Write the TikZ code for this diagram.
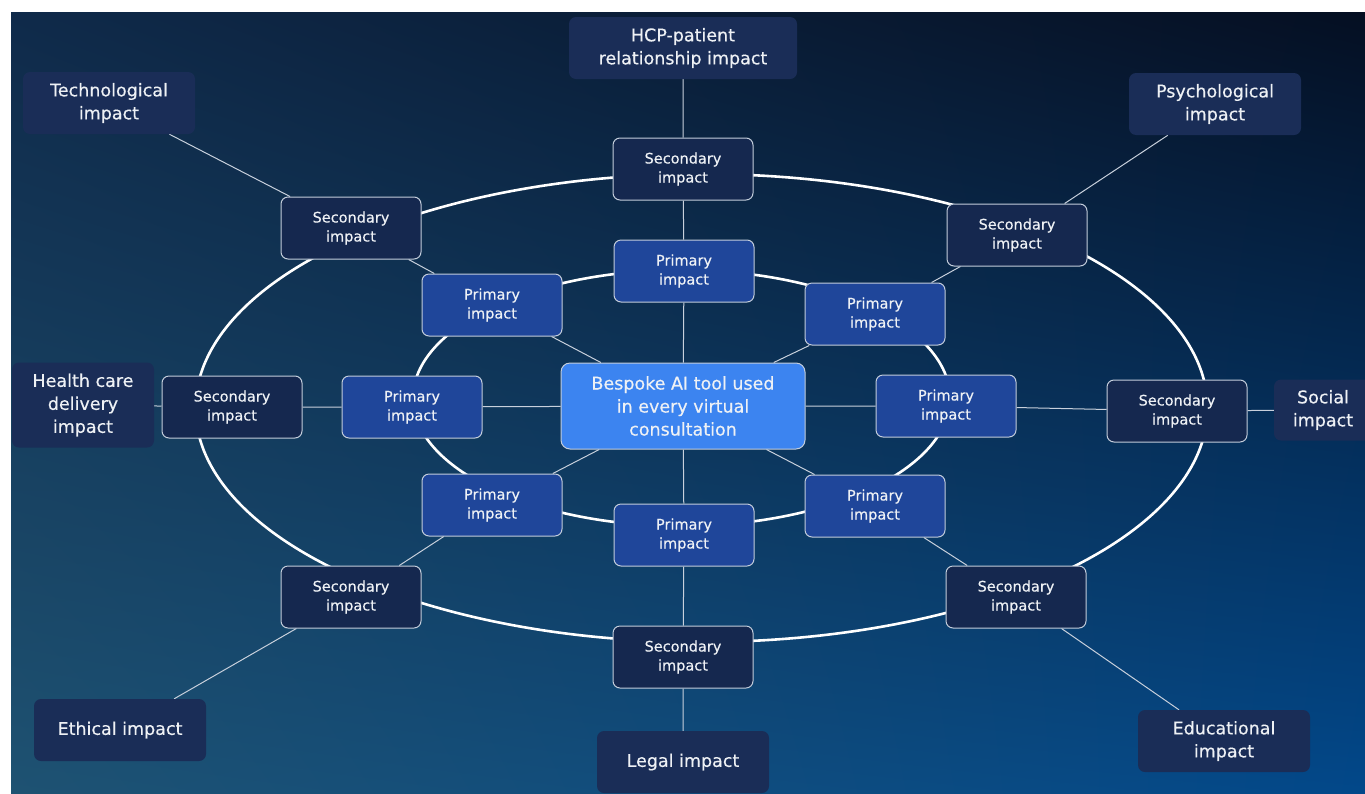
\documentclass[tikz,border=0pt]{standalone}
\usepackage{fontspec}
\setmainfont[FakeBold=0.4]{DejaVu Sans}
\usetikzlibrary{backgrounds,shadings}
\definecolor{bgtl}{HTML}{0F2A4A}
\definecolor{bgtr}{HTML}{050F22}
\definecolor{bgbl}{HTML}{1E5272}
\definecolor{bgbr}{HTML}{02488A}
\definecolor{outerc}{HTML}{1A2D57}
\definecolor{secc}{HTML}{15284F}
\definecolor{primc}{HTML}{1F469A}
\definecolor{corec}{HTML}{3C84F0}
\definecolor{edgec}{HTML}{C3CDDB}
\definecolor{linkc}{HTML}{C8D0DC}
\definecolor{txt}{HTML}{EEF1F5}
\tikzset{
  outerbox/.style={rounded corners=7pt, fill=outerc, text=txt, align=center,
    font=\fontsize{17.5}{23}\selectfont, minimum width=172pt, minimum height=62pt, inner sep=0pt},
  secbox/.style={rounded corners=7pt, fill=secc, draw=edgec, line width=1pt, text=txt, align=center,
    font=\fontsize{14.5}{19}\selectfont, minimum width=140pt, minimum height=62pt, inner sep=0pt},
  primbox/.style={secbox, fill=primc},
  corebox/.style={rounded corners=9pt, fill=corec, draw=edgec, line width=1pt, text=txt, align=center,
    font=\fontsize{17.5}{23}\selectfont, minimum width=244pt, minimum height=86pt, inner sep=0pt},
  link/.style={draw=linkc, line width=1pt},
  ring/.style={draw=white, line width=2.6pt}
}
\begin{document}
\begin{tikzpicture}[x=1pt,y=-1pt]
\useasboundingbox (0,0) rectangle (1365,793);
% core
\node[corebox] (core) at (683,406) {Bespoke AI tool used\\in every virtual\\consultation};
% primary
\node[primbox] (pt)  at (684,271) {Primary\\impact};
\node[primbox] (ptl) at (492,305) {Primary\\impact};
\node[primbox] (ptr) at (875,314) {Primary\\impact};
\node[primbox] (pl)  at (412,407) {Primary\\impact};
\node[primbox] (pr)  at (946,406) {Primary\\impact};
\node[primbox] (pbl) at (492,505) {Primary\\impact};
\node[primbox] (pbr) at (875,506) {Primary\\impact};
\node[primbox] (pb)  at (684,535) {Primary\\impact};
% secondary
\node[secbox] (st)  at (683,169) {Secondary\\impact};
\node[secbox] (stl) at (351,228) {Secondary\\impact};
\node[secbox] (str) at (1017,235) {Secondary\\impact};
\node[secbox] (sl)  at (232,407) {Secondary\\impact};
\node[secbox] (sr)  at (1177,411) {Secondary\\impact};
\node[secbox] (sbl) at (351,597) {Secondary\\impact};
\node[secbox] (sbr) at (1016,597) {Secondary\\impact};
\node[secbox] (sb)  at (683,657) {Secondary\\impact};
% outer labels
\node[outerbox, minimum width=228pt] (hcp) at (683,48) {HCP-patient\\relationship impact};
\node[outerbox] (tech) at (109,103) {Technological\\impact};
\node[outerbox] (psy) at (1215,104) {Psychological\\impact};
\node[outerbox, minimum width=142pt, minimum height=85pt] (hcd) at (83,405) {Health care\\delivery\\impact};
\node[outerbox, minimum width=98pt, minimum height=61pt] (soc) at (1323,410) {Social\\impact};
\node[outerbox] (eth) at (120,730) {Ethical impact};
\node[outerbox] (leg) at (683,762) {Legal impact};
\node[outerbox] (edu) at (1224,741) {Educational\\impact};
\begin{scope}[on background layer]
  \fill[white] (0,0) rectangle (1365,793);
  \shade[upper left=bgtl, upper right=bgtr, lower left=bgbl, lower right=bgbr] (11,12) rectangle (1365,793);
  \draw[ring] (701.5,408) ellipse [x radius=506pt, y radius=234pt];
  \draw[ring] (681.5,398) ellipse [x radius=268.5pt, y radius=128pt];
  \draw[link] (hcp) -- (st) -- (pt) -- (core);
  \draw[link] (leg) -- (sb) -- (pb) -- (core);
  \draw[link] (tech) -- (stl) -- (ptl) -- (core);
  \draw[link] (psy) -- (str) -- (ptr) -- (core);
  \draw[link] (hcd) -- (sl) -- (pl) -- (core);
  \draw[link] (soc) -- (sr) -- (pr) -- (core);
  \draw[link] (eth) -- (sbl) -- (pbl) -- (core);
  \draw[link] (edu) -- (sbr) -- (pbr) -- (core);
\end{scope}
\end{tikzpicture}
\end{document}
